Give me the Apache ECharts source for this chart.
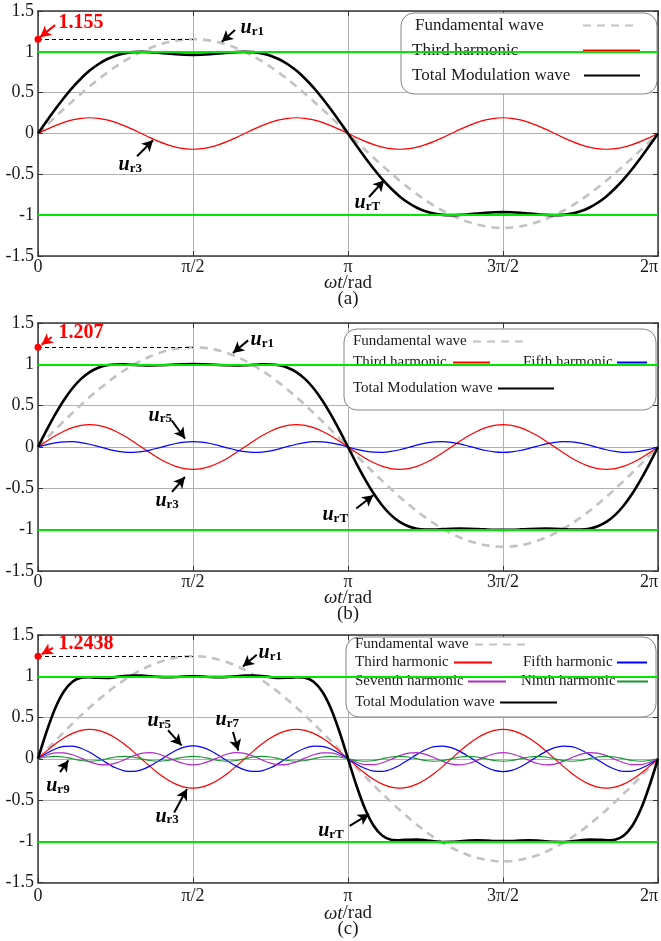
<!DOCTYPE html>
<html><head><meta charset="utf-8">
<script src="https://cdn.jsdelivr.net/npm/echarts@6/dist/echarts.min.js"></script>
<style>html,body{margin:0;padding:0;background:#fff}#c{width:661px;height:941px}</style>
</head><body><div id="c"></div>
<script>
// x positions in degrees (0 .. 2π)
const angles = [0,5,10,15,20,25,30,35,40,45,50,55,60,65,70,75,80,85,90,95,100,105,110,115,120,125,130,135,140,145,150,155,160,165,170,175,180,185,190,195,200,205,210,215,220,225,230,235,240,245,250,255,260,265,270,275,280,285,290,295,300,305,310,315,320,325,330,335,340,345,350,355,360];
const xTickLabels = ['0','π/2','π','3π/2','2π'];
const limitLevels = [1, -1];
const peakA = 1.155, peakB = 1.207, peakC = 1.2438;

// ---- panel (a)
const fundA = [0,0.101,0.201,0.299,0.395,0.488,0.578,0.663,0.742,0.817,0.885,0.946,1.000,1.047,1.085,1.116,1.137,1.151,1.155,
1.151,1.137,1.116,1.085,1.047,1.000,0.946,0.885,0.817,0.742,0.663,0.578,0.488,0.395,0.299,0.201,0.101,0,
-0.101,-0.201,-0.299,-0.395,-0.488,-0.578,-0.663,-0.742,-0.817,-0.885,-0.946,-1.000,-1.047,-1.085,-1.116,-1.137,-1.151,-1.155,
-1.151,-1.137,-1.116,-1.085,-1.047,-1.000,-0.946,-0.885,-0.817,-0.742,-0.663,-0.578,-0.488,-0.395,-0.299,-0.201,-0.101,0];
const thirdA = [0,0.050,0.096,0.136,0.167,0.186,0.193,0.186,0.167,0.136,0.096,0.050,0,-0.050,-0.096,-0.136,-0.167,-0.186,-0.193,
-0.186,-0.167,-0.136,-0.096,-0.050,0,0.050,0.096,0.136,0.167,0.186,0.193,0.186,0.167,0.136,0.096,0.050,0,
-0.050,-0.096,-0.136,-0.167,-0.186,-0.193,-0.186,-0.167,-0.136,-0.096,-0.050,0,0.050,0.096,0.136,0.167,0.186,0.193,
0.186,0.167,0.136,0.096,0.050,0,-0.050,-0.096,-0.136,-0.167,-0.186,-0.193,-0.186,-0.167,-0.136,-0.096,-0.050,0];
const totalA = [0,0.151,0.297,0.435,0.562,0.674,0.770,0.848,0.909,0.953,0.981,0.996,1.000,0.997,0.989,0.980,0.971,0.965,0.963,
0.965,0.971,0.980,0.989,0.997,1.000,0.996,0.981,0.953,0.909,0.848,0.770,0.674,0.562,0.435,0.297,0.151,0,
-0.151,-0.297,-0.435,-0.562,-0.674,-0.770,-0.848,-0.909,-0.953,-0.981,-0.996,-1.000,-0.997,-0.989,-0.980,-0.971,-0.965,-0.963,
-0.965,-0.971,-0.980,-0.989,-0.997,-1.000,-0.996,-0.981,-0.953,-0.909,-0.848,-0.770,-0.674,-0.562,-0.435,-0.297,-0.151,0];

// ---- panel (b)
const fundB = [0,0.105,0.210,0.312,0.413,0.510,0.604,0.692,0.776,0.854,0.925,0.989,1.045,1.094,1.134,1.166,1.189,1.202,1.207,
1.202,1.189,1.166,1.134,1.094,1.045,0.989,0.925,0.854,0.776,0.692,0.604,0.510,0.413,0.312,0.210,0.105,0,
-0.105,-0.210,-0.312,-0.413,-0.510,-0.604,-0.692,-0.776,-0.854,-0.925,-0.989,-1.045,-1.094,-1.134,-1.166,-1.189,-1.202,-1.207,
-1.202,-1.189,-1.166,-1.134,-1.094,-1.045,-0.989,-0.925,-0.854,-0.776,-0.692,-0.604,-0.510,-0.413,-0.312,-0.210,-0.105,0];
const thirdB = [0,0.070,0.135,0.191,0.234,0.261,0.270,0.261,0.234,0.191,0.135,0.070,0,-0.070,-0.135,-0.191,-0.234,-0.261,-0.270,
-0.261,-0.234,-0.191,-0.135,-0.070,0,0.070,0.135,0.191,0.234,0.261,0.270,0.261,0.234,0.191,0.135,0.070,0,
-0.070,-0.135,-0.191,-0.234,-0.261,-0.270,-0.261,-0.234,-0.191,-0.135,-0.070,0,0.070,0.135,0.191,0.234,0.261,0.270,
0.261,0.234,0.191,0.135,0.070,0,-0.070,-0.135,-0.191,-0.234,-0.261,-0.270,-0.261,-0.234,-0.191,-0.135,-0.070,0];
const fifthB = [0,0.028,0.050,0.063,0.064,0.053,0.033,0.006,-0.022,-0.046,-0.061,-0.065,-0.056,-0.037,-0.011,0.017,0.042,0.059,0.065,
0.059,0.042,0.017,-0.011,-0.037,-0.056,-0.065,-0.061,-0.046,-0.022,0.006,0.033,0.053,0.064,0.063,0.050,0.028,0,
-0.028,-0.050,-0.063,-0.064,-0.053,-0.033,-0.006,0.022,0.046,0.061,0.065,0.056,0.037,0.011,-0.017,-0.042,-0.059,-0.065,
-0.059,-0.042,-0.017,0.011,0.037,0.056,0.065,0.061,0.046,0.022,-0.006,-0.033,-0.053,-0.064,-0.063,-0.050,-0.028,0];
const totalB = [0,0.203,0.394,0.566,0.711,0.824,0.906,0.959,0.988,0.998,0.999,0.994,0.989,0.987,0.988,0.992,0.997,1.001,1.002,
1.001,0.997,0.992,0.988,0.987,0.989,0.994,0.999,0.998,0.988,0.959,0.906,0.824,0.711,0.566,0.394,0.203,0,
-0.203,-0.394,-0.566,-0.711,-0.824,-0.906,-0.959,-0.988,-0.998,-0.999,-0.994,-0.989,-0.987,-0.988,-0.992,-0.997,-1.001,-1.002,
-1.001,-0.997,-0.992,-0.988,-0.987,-0.989,-0.994,-0.999,-0.998,-0.988,-0.959,-0.906,-0.824,-0.711,-0.566,-0.394,-0.203,0];

// ---- panel (c)
const fundC = [0,0.109,0.216,0.322,0.425,0.526,0.622,0.713,0.800,0.880,0.953,1.019,1.077,1.127,1.169,1.201,1.225,1.239,1.244,
1.239,1.225,1.201,1.169,1.127,1.077,1.019,0.953,0.880,0.800,0.713,0.622,0.526,0.425,0.322,0.216,0.109,0,
-0.109,-0.216,-0.322,-0.425,-0.526,-0.622,-0.713,-0.800,-0.880,-0.953,-1.019,-1.077,-1.127,-1.169,-1.201,-1.225,-1.239,-1.244,
-1.239,-1.225,-1.201,-1.169,-1.127,-1.077,-1.019,-0.953,-0.880,-0.800,-0.713,-0.622,-0.526,-0.425,-0.322,-0.216,-0.109,0];
const thirdC = [0,0.092,0.178,0.251,0.307,0.343,0.355,0.343,0.307,0.251,0.178,0.092,0,-0.092,-0.178,-0.251,-0.307,-0.343,-0.355,
-0.343,-0.307,-0.251,-0.178,-0.092,0,0.092,0.178,0.251,0.307,0.343,0.355,0.343,0.307,0.251,0.178,0.092,0,
-0.092,-0.178,-0.251,-0.307,-0.343,-0.355,-0.343,-0.307,-0.251,-0.178,-0.092,0,0.092,0.178,0.251,0.307,0.343,0.355,
0.343,0.307,0.251,0.178,0.092,0,-0.092,-0.178,-0.251,-0.307,-0.343,-0.355,-0.343,-0.307,-0.251,-0.178,-0.092,0];
const fifthC = [0,0.066,0.119,0.150,0.153,0.127,0.078,0.014,-0.053,-0.110,-0.146,-0.154,-0.134,-0.089,-0.027,0.040,0.100,0.141,0.155,
0.141,0.100,0.040,-0.027,-0.089,-0.134,-0.154,-0.146,-0.110,-0.053,0.014,0.078,0.127,0.153,0.150,0.119,0.066,0,
-0.066,-0.119,-0.150,-0.153,-0.127,-0.078,-0.014,0.053,0.110,0.146,0.154,0.134,0.089,0.027,-0.040,-0.100,-0.141,-0.155,
-0.141,-0.100,-0.040,0.027,0.089,0.134,0.154,0.146,0.110,0.053,-0.014,-0.078,-0.127,-0.153,-0.150,-0.119,-0.066,0];
const seventhC = [0,0.043,0.071,0.072,0.048,0.007,-0.038,-0.068,-0.074,-0.053,-0.013,0.032,0.065,0.075,0.058,0.019,-0.026,-0.061,-0.075,
-0.061,-0.026,0.019,0.058,0.075,0.065,0.032,-0.013,-0.053,-0.074,-0.068,-0.038,0.007,0.048,0.072,0.071,0.043,0,
-0.043,-0.071,-0.072,-0.048,-0.007,0.038,0.068,0.074,0.053,0.013,-0.032,-0.065,-0.075,-0.058,-0.019,0.026,0.061,0.075,
0.061,0.026,-0.019,-0.058,-0.075,-0.065,-0.032,0.013,0.053,0.074,0.068,0.038,-0.007,-0.048,-0.072,-0.071,-0.043,0];
const ninthC = [0,0.021,0.030,0.021,0,-0.021,-0.030,-0.021,0,0.021,0.030,0.021,0,-0.021,-0.030,-0.021,0,0.021,0.030,
0.021,0,-0.021,-0.030,-0.021,0,0.021,0.030,0.021,0,-0.021,-0.030,-0.021,0,0.021,0.030,0.021,0,
-0.021,-0.030,-0.021,0,0.021,0.030,0.021,0,-0.021,-0.030,-0.021,0,0.021,0.030,0.021,0,-0.021,-0.030,
-0.021,0,0.021,0.030,0.021,0,-0.021,-0.030,-0.021,0,0.021,0.030,0.021,0,-0.021,-0.030,-0.021,0];
const totalC = [0,0.330,0.613,0.816,0.934,0.981,0.987,0.981,0.980,0.989,1.002,1.009,1.008,1.000,0.992,0.989,0.991,0.997,0.999,
0.997,0.991,0.989,0.992,1.000,1.008,1.009,1.002,0.989,0.980,0.981,0.987,0.981,0.934,0.816,0.613,0.330,0,
-0.330,-0.613,-0.816,-0.934,-0.981,-0.987,-0.981,-0.980,-0.989,-1.002,-1.009,-1.008,-1.000,-0.992,-0.989,-0.991,-0.997,-0.999,
-0.997,-0.991,-0.989,-0.992,-1.000,-1.008,-1.009,-1.002,-0.989,-0.980,-0.981,-0.987,-0.981,-0.934,-0.816,-0.613,-0.330,0];

const SERIF = "'Liberation Serif','Times New Roman',serif";
const TXT = '#1a1a1a';

const styles = {
  'Fundamental wave':      {color:'#c2c2c2', width:2.6, type:[8,6]},
  'Third harmonic':        {color:'#ff0000', width:1.2, type:'solid'},
  'Fifth harmonic':        {color:'#0000ff', width:1.2, type:'solid'},
  'Seventh harmonic':      {color:'#b02cc4', width:1.2, type:'solid'},
  'Ninth harmonic':        {color:'#17952f', width:1.2, type:'solid'},
  'Total Modulation wave': {color:'#000000', width:2.6, type:'solid'}
};

const panels = [
  { tag:'a', top:11, height:245, peak:peakA, peakText:'1.155', labelMargin:2, nameGap:19,
    curves:[['Fundamental wave',fundA],['Third harmonic',thirdA],['Total Modulation wave',totalA]],
    box:[401,13,256,81], legendFont:17,
    legend:[['Fundamental wave',415,583,638,26],['Third harmonic',412,583,640,51],['Total Modulation wave',412,584,640,76]],
    peakLabelAt:[11.6,1.36], redArrow:[[9.9,1.327],[1.2,1.18]],
    labels:[['r1',117.3,1.29],['r3',46.5,-0.388],['rT',183.5,-0.854]],
    arrows:[[[114.4,1.266],[106.7,1.123]],[[57.5,-0.278],[66.8,-0.082]],[[192.2,-0.777],[201,-0.572]]] },
  { tag:'b', top:323, height:248, peak:peakB, peakText:'1.207', labelMargin:2, nameGap:19,
    curves:[['Fundamental wave',fundB],['Third harmonic',thirdB],['Fifth harmonic',fifthB],['Total Modulation wave',totalB]],
    box:[344,329,312,81], legendFont:15,
    legend:[['Fundamental wave',353,473,527,343],['Third harmonic',353,453,490,364],['Fifth harmonic',523,617,647,364],['Total Modulation wave',353,498,554,390]],
    peakLabelAt:[11.6,1.387], redArrow:[[8,1.33],[2.1,1.238]],
    labels:[['r1',123.1,1.296],['r5',63.9,0.383],['r3',67.9,-0.657],['rT',164.9,-0.826]],
    arrows:[[[122,1.29],[113.2,1.137]],[[77.6,0.323],[85.4,0.102]],[[77.8,-0.544],[85.3,-0.363]],[[184.8,-0.745],[194.7,-0.584]]] },
  { tag:'c', top:635, height:247.5, peak:peakC, peakText:'1.2438', labelMargin:5, nameGap:23,
    curves:[['Fundamental wave',fundC],['Third harmonic',thirdC],['Fifth harmonic',fifthC],['Seventh harmonic',seventhC],['Ninth harmonic',ninthC],['Total Modulation wave',totalC]],
    box:[346,637,310,80], legendFont:15,
    legend:[['Fundamental wave',355,475,528,646],['Third harmonic',355,454,492,664],['Fifth harmonic',523,617,647,664],
            ['Seventh harmonic',355,468,506,683],['Ninth harmonic',521,617,648,683],['Total Modulation wave',355,500,557,704]],
    peakLabelAt:[11.6,1.394], redArrow:[[8.7,1.345],[2.1,1.268]],
    labels:[['r1',127.8,1.284],['r5',63.3,0.455],['r7',102.8,0.467],['r9',4.5,-0.326],['r3',67.9,-0.70],['rT',162.4,-0.874]],
    arrows:[[[127,1.26],[119,1.117]],[[75.5,0.345],[83.4,0.162]],[[113.2,0.324],[116.3,0.101]],[[12.8,-0.163],[17.6,-0.02]],[[79.1,-0.651],[86.5,-0.366]],[[181,-0.813],[192.2,-0.671]]] }
];

const grids = [], xAxes = [], yAxes = [], series = [], legends = [], graphics = [];
const axisLineStyle = {color:'#3a3a3a', width:1.5};

function arrowLine(from, to, color, w) {
  return [
    {coord: from, symbol:'none', lineStyle:{color, width:w, type:'solid'}, itemStyle:{color}},
    {coord: to, symbol:'arrow', symbolSize:[9,11], lineStyle:{color, width:w, type:'solid'}, itemStyle:{color}}
  ];
}

panels.forEach((p, i) => {
  grids.push({left:38, width:620, top:p.top, height:p.height, outerBoundsMode:'none', containLabel:false});
  xAxes.push({
    type:'value', gridIndex:i, min:0, max:360, interval:90, position:'bottom',
    axisLine:{show:true, onZero:false, lineStyle:axisLineStyle},
    axisTick:{show:true, inside:true, length:5, lineStyle:{color:'#333'}},
    axisLabel:{margin:p.labelMargin, fontSize:18, fontFamily:SERIF, color:TXT, alignMaxLabel:'right',
      formatter:v => xTickLabels[Math.round(v/90)]},
    splitLine:{show:true, lineStyle:{color:'#b0b0b0', width:1}},
    name:'{i|ωt}/rad\n(' + p.tag + ')', nameLocation:'middle', nameGap:p.nameGap, nameMoveOverlap:false,
    nameTextStyle:{fontSize:19, fontFamily:SERIF, color:TXT, lineHeight:16,
      rich:{i:{fontSize:19, fontFamily:SERIF, fontStyle:'italic', color:TXT, lineHeight:16}}}
  });
  xAxes.push({
    type:'value', gridIndex:i, min:0, max:360, interval:90, position:'top',
    axisLine:{show:true, onZero:false, lineStyle:axisLineStyle},
    axisTick:{show:true, inside:true, length:5, lineStyle:{color:'#333'}},
    axisLabel:{show:false}, splitLine:{show:false}
  });
  yAxes.push({
    type:'value', gridIndex:i, min:-1.5, max:1.5, interval:0.5, position:'left',
    axisLine:{show:true, onZero:false, lineStyle:axisLineStyle},
    axisTick:{show:true, inside:true, length:5, lineStyle:{color:'#333'}},
    axisLabel:{margin:4, fontSize:18, fontFamily:SERIF, color:TXT},
    splitLine:{show:true, lineStyle:{color:'#b0b0b0', width:1}}
  });
  yAxes.push({
    type:'value', gridIndex:i, min:-1.5, max:1.5, interval:0.5, position:'right',
    axisLine:{show:true, onZero:false, lineStyle:axisLineStyle},
    axisTick:{show:true, inside:true, length:5, lineStyle:{color:'#333'}},
    axisLabel:{show:false}, splitLine:{show:false}
  });

  const mlData = [];
  limitLevels.forEach(v => mlData.push({yAxis:v, lineStyle:{color:'#00e600', width:2.2, type:'solid'}}));
  mlData.push([
    {coord:[0,p.peak], lineStyle:{color:'#000', width:1, type:[4,3]}},
    {coord:[90,p.peak], lineStyle:{color:'#000', width:1, type:[4,3]}}
  ]);
  mlData.push(arrowLine(p.redArrow[0], p.redArrow[1], '#ff0000', 2));
  p.arrows.forEach(a => mlData.push(arrowLine(a[0], a[1], '#000000', 2)));

  const uRich = {
    u:{fontFamily:SERIF, fontStyle:'italic', fontWeight:'bold', fontSize:20, color:'#000', lineHeight:20},
    s:{fontFamily:SERIF, fontWeight:'bold', fontSize:13, color:'#000', lineHeight:14, verticalAlign:'bottom'}
  };
  const mpData = [
    {coord:[0,p.peak], symbol:'circle', symbolSize:7, itemStyle:{color:'#ff0000'}, label:{show:false}},
    {coord:p.peakLabelAt, symbol:'circle', symbolSize:1, itemStyle:{color:'rgba(0,0,0,0)'},
      label:{show:true, position:'right', distance:0, formatter:p.peakText, color:'#ff0000', fontSize:20, fontWeight:'bold', fontFamily:SERIF}}
  ];
  p.labels.forEach(l => mpData.push({
    coord:[l[1], l[2]], symbol:'circle', symbolSize:1, itemStyle:{color:'rgba(0,0,0,0)'},
    label:{show:true, position:'right', distance:0, formatter:'{u|u}{s|' + l[0] + '}', rich:uRich}
  }));

  p.curves.forEach((c, j) => {
    const st = styles[c[0]];
    const s = {
      type:'line', name:c[0], xAxisIndex:2*i, yAxisIndex:2*i,
      data: angles.map((a, k) => [a, c[1][k]]),
      symbol:'none', smooth:0.3, color:st.color,
      lineStyle:{color:st.color, width:st.width, type:st.type},
      z: 2, silent:true
    };
    if (j === 0) {
      s.markLine = {silent:true, symbol:['none','none'], label:{show:false}, data:mlData, animation:false};
      s.markPoint = {silent:true, data:mpData, animation:false};
    }
    series.push(s);
  });

  graphics.push({type:'rect', z:3, silent:true,
    shape:{x:p.box[0], y:p.box[1], width:p.box[2], height:p.box[3], r:13},
    style:{fill:'#ffffff', stroke:'#858585', lineWidth:1}});

  p.legend.forEach(L => {
    const [name, tl, il, ir, yc] = L;
    legends.push({
      data:[name], left:tl, top:yc - 9, padding:0, orient:'horizontal', align:'right',
      itemWidth: ir - il, itemHeight:12, itemGap:0, selectedMode:false, z:5,
      itemStyle:{opacity:0, color:'rgba(0,0,0,0)', borderColor:'rgba(0,0,0,0)', borderWidth:0},
      formatter:'{t|{name}}',
      textStyle:{fontSize:p.legendFont, fontFamily:SERIF, color:TXT,
        rich:{t:{width: il - 5 - tl, align:'left', fontSize:p.legendFont, fontFamily:SERIF, color:TXT, lineHeight:18}}}
    });
  });
});

const chart = echarts.init(document.getElementById('c'), null, {renderer:'canvas'});
chart.setOption({
  animation:false,
  backgroundColor:'#ffffff',
  grid:grids, xAxis:xAxes, yAxis:yAxes, series:series, legend:legends,
  graphic:{elements:graphics}
});
</script>
</body></html>
